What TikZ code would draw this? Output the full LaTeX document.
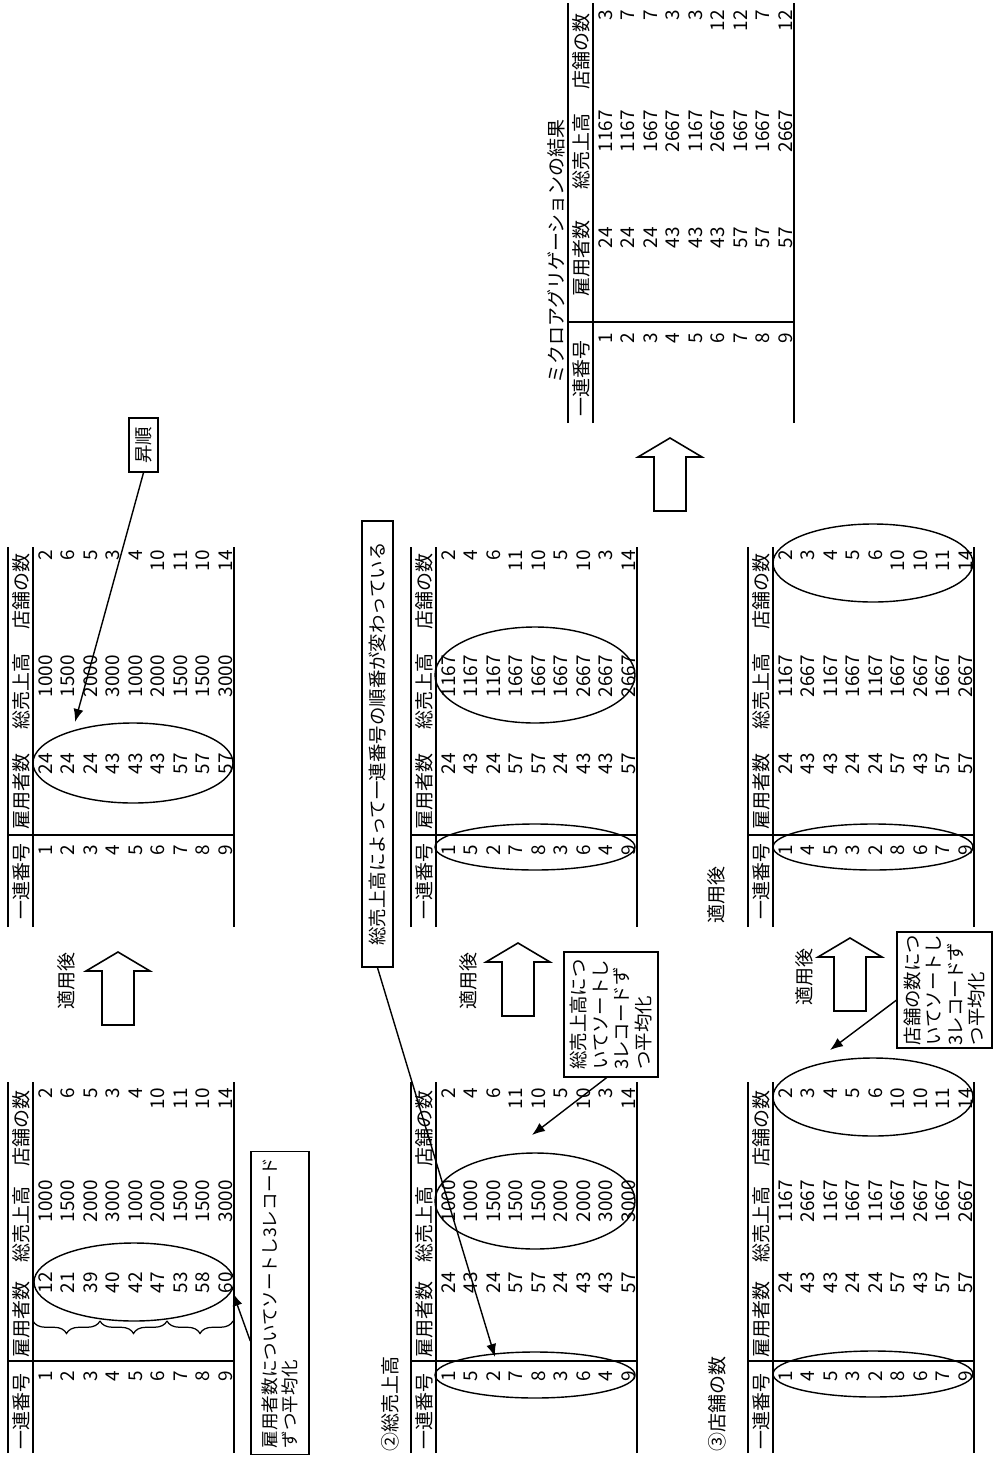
\documentclass[tikz,border=0pt]{standalone}
\usepackage{fontspec}
\setmainfont{Noto Sans CJK JP}
\usetikzlibrary{arrows.meta,decorations.pathreplacing}

\tikzset{
  rule/.style={line width=1.1pt},
  ring/.style={line width=0.8pt},
  head/.style={rotate=90, anchor=west, inner sep=0pt, font=\fontsize{10.8}{12}\selectfont},
  cell/.style={rotate=90, anchor=east, inner sep=0pt, font=\fontsize{10.8}{12}\selectfont},
  lbl/.style={rotate=90, inner sep=0pt, font=\fontsize{10.8}{12}\selectfont},
  note/.style={draw, line width=0.8pt, rotate=90, align=left, inner sep=0pt,
    font=\fontsize{10.5}{12.3}\selectfont},
  pointer/.style={line width=0.8pt, -{Latex[length=2.6mm,width=2mm]}},
  blockarrow/.style={line width=0.9pt, line join=miter},
  group/.style={line width=0.7pt, decorate, decoration={brace, amplitude=0.25cm}}
}

% table: #1 name, #2 x of top rule, #3 y of lower end, #4 length, #5 separator,
% #6 header starts / column ends, #7 rows
\newcommand{\datatable}[7]{%
  \begin{scope}[shift={(#2,#3)}]
    \draw[rule] (0,0) -- (0,-#4) (25,0) -- (25,-#4) (226,0) -- (226,-#4)
      (0,-#5) -- (226,-#5);
    \foreach \ha/\hb/\hc/\hd/\ea/\eb/\ec/\ed in {#6} {
      \node[head] (#1-h1) at (13,-\ha) {一連番号};
      \node[head] (#1-h2) at (13,-\hb) {雇用者数};
      \node[head] (#1-h3) at (13,-\hc) {総売上高};
      \node[head] (#1-h4) at (13,-\hd) {店舗の数};
      \foreach \va/\vb/\vc/\vd [count=\r] in {#7} {
        \node[cell] (#1-\r-a) at ({15+22.5*\r},-\ea) {\va};
        \node[cell] (#1-\r-b) at ({15+22.5*\r},-\eb) {\vb};
        \node[cell] (#1-\r-c) at ({15+22.5*\r},-\ec) {\vc};
        \node[cell] (#1-\r-d) at ({15+22.5*\r},-\ed) {\vd};
      }
    }
  \end{scope}}

% hollow arrow pointing up, tip at (#1,#2)
\newcommand{\blockup}[2]{%
  \draw[blockarrow] (#1,#2) -- ++(32,19) -- ++(-16,0) -- ++(0,54) -- ++(-32,0)
    -- ++(0,-54) -- ++(-16,0) -- cycle;}

\begin{document}
\begin{tikzpicture}[x=0.02cm, y=-0.02cm]
    \useasboundingbox (0,0) rectangle (996,1457);

    % Tableau d'origine et tri par nombre d'employes
    \datatable{orig}{8}{1453}{371}{92}{3/95/190/286/82/181/273/365}
      {1/12/1000/2, 2/21/1500/6, 3/39/2000/5, 4/40/3000/3, 5/42/1000/4,
       6/47/2000/10, 7/53/1500/11, 8/58/1500/10, 9/60/3000/14}
    \datatable{empafter}{8}{927}{380}{92}{7/97/197/297/82/174/272/377}
      {1/24/1000/2, 2/24/1500/6, 3/24/2000/5, 4/43/3000/3, 5/43/1000/4,
       6/43/2000/10, 7/57/1500/11, 8/57/1500/10, 9/57/3000/14}

    % Tri par chiffre d'affaires
    \datatable{sales}{411}{1453}{371}{92}{3/95/190/286/82/181/273/365}
      {1/24/1000/2, 5/43/1000/4, 2/24/1500/6, 7/57/1500/11, 8/57/1500/10,
       3/24/2000/5, 6/43/2000/10, 4/43/3000/3, 9/57/3000/14}
    \datatable{salesafter}{411}{927}{380}{92}{7/97/197/297/82/174/272/377}
      {1/24/1167/2, 5/43/1167/4, 2/24/1167/6, 7/57/1667/11, 8/57/1667/10,
       3/24/1667/5, 6/43/2667/10, 4/43/2667/3, 9/57/2667/14}

    % Tri par nombre de magasins
    \datatable{shops}{748}{1453}{371}{92}{3/95/190/286/82/181/273/365}
      {1/24/1167/2, 4/43/2667/3, 5/43/1167/4, 3/24/1667/5, 2/24/1167/6,
       8/57/1667/10, 6/43/2667/10, 7/57/1667/11, 9/57/2667/14}
    \datatable{shopsafter}{748}{927}{380}{92}{7/97/197/297/82/174/272/377}
      {1/24/1167/2, 4/43/2667/3, 5/43/1167/4, 3/24/1667/5, 2/24/1167/6,
       8/57/1667/10, 6/43/2667/10, 7/57/1667/11, 9/57/2667/14}

    % Resultat
    \datatable{result}{568}{423}{420}{101}{6/126/233/333/90/196/313/413}
      {1/24/1167/3, 2/24/1167/7, 3/24/1667/7, 4/43/2667/3, 5/43/1167/3,
       6/43/2667/12, 7/57/1667/12, 8/57/1667/7, 9/57/2667/12}

    % Titres
    \node[lbl, anchor=west] (title2) at (390,1452) {②総売上高};
    \node[lbl, anchor=west] (title3) at (717,1452) {③店舗の数};
    \node[lbl, anchor=west] (title3a) at (716,924) {適用後};
    \node[lbl, anchor=west] (titleres) at (556,384) {ミクロアグリゲーションの結果};

    % Ellipses
    \foreach \cx/\cy/\ry in {134/1282/39, 133/763/40, 535/1375/23, 535/1201/48,
        535/847/23, 535/675/48, 873/1374/23, 873/1097/39, 873/847/23, 873/563/39}
      \draw[ring] (\cx,\cy) ellipse [x radius=100, y radius=\ry];

    % Accolades
    \foreach \a/\b in {233/167, 167/100, 100/33}
      \draw[group] (\a,1321) -- (\b,1321);

    % Fleches "apres application"
    \blockup{118}{952}
    \blockup{518}{943}
    \blockup{850}{938}
    \blockup{670}{438}
    \node[lbl] (apply1) at (66,981) {適用後};
    \node[lbl] (apply2) at (468,981) {適用後};
    \node[lbl] (apply3) at (804,977) {適用後};

    % Bulles
    \node[note, font=\fontsize{10}{11.4}\selectfont, minimum width=6.06cm, minimum height=1.16cm]
      (sortemp) at (280,1303) {雇用者数についてソートし3レコード\\ずつ平均化};
    \node[note, minimum width=2.5cm, minimum height=1.88cm]
      (sortsales) at (611,1014.5) {総売上高につ\\いてソートし\\3レコードず\\つ平均化};
    \node[note, minimum width=2.32cm, minimum height=1.9cm]
      (sortshops) at (944.5,990) {店舗の数につ\\いてソートし\\3レコードず\\つ平均化};
    \node[note, minimum width=8.92cm, minimum height=0.62cm]
      (changed) at (377.5,744) {総売上高によって一連番号の順番が変わっている};
    \node[note, minimum width=1.08cm, minimum height=0.58cm]
      (ascending) at (143.5,445) {昇順};

    \coordinate (tipemp) at (233,1293);
    \coordinate (tipasc) at (75,722);
    \coordinate (tipchg) at (495,1357);
    \coordinate (tipsales) at (532,1135);
    \coordinate (tipshops) at (830,1050);

    \draw[pointer] (sortemp.142) -- (tipemp);
    \draw[pointer] (ascending.west) -- (tipasc);
    \draw[pointer] (changed.west) -- (tipchg);
    \draw[pointer] (sortsales.176) -- (tipsales);
    \draw[pointer] (sortshops.102) -- (tipshops);

\end{tikzpicture}
\end{document}
